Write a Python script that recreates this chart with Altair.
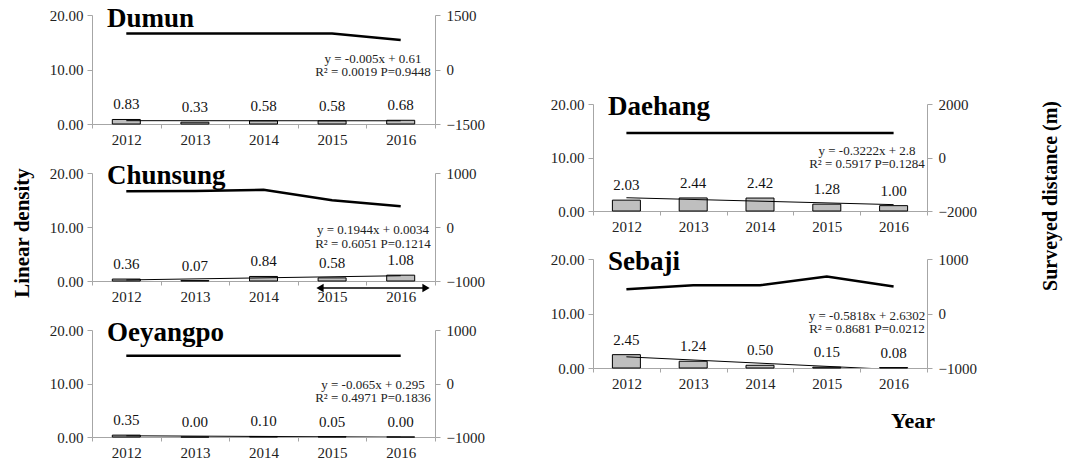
import altair as alt
import pandas as pd

years = [2012, 2013, 2014, 2015, 2016]

density = {
    "Dumun": [0.83, 0.33, 0.58, 0.58, 0.68],
    "Chunsung": [0.36, 0.07, 0.84, 0.58, 1.08],
    "Oeyangpo": [0.35, 0.00, 0.10, 0.05, 0.00],
    "Daehang": [2.03, 2.44, 2.42, 1.28, 1.00],
    "Sebaji": [2.45, 1.24, 0.50, 0.15, 0.08],
}
distance = {
    "Dumun": [990, 990, 990, 990, 810],
    "Chunsung": [660, 665, 690, 495, 385],
    "Oeyangpo": [520, 520, 520, 520, 520],
    "Daehang": [920, 920, 920, 920, 920],
    "Sebaji": [445, 520, 520, 680, 495],
}
right_domain = {
    "Dumun": [-1500, 1500],
    "Chunsung": [-1000, 1000],
    "Oeyangpo": [-1000, 1000],
    "Daehang": [-2000, 2000],
    "Sebaji": [-1000, 1000],
}
equations = {
    "Dumun": ["y = -0.005x + 0.61", "R\u00b2 = 0.0019 P=0.9448"],
    "Chunsung": ["y = 0.1944x + 0.0034", "R\u00b2 = 0.6051 P=0.1214"],
    "Oeyangpo": ["y = -0.065x + 0.295", "R\u00b2 = 0.4971 P=0.1836"],
    "Daehang": ["y = -0.3222x + 2.8", "R\u00b2 = 0.5917 P=0.1284"],
    "Sebaji": ["y = -0.5818x + 2.6302", "R\u00b2 = 0.8681 P=0.0212"],
}
# annotation placement (style)
eq_y = {"Dumun": (12.0, 9.5), "Chunsung": (9.4, 6.9), "Oeyangpo": (9.8, 7.3),
        "Daehang": (11.3, 8.8), "Sebaji": (9.6, 7.1)}
sizes = {"Dumun": (343, 109), "Chunsung": (343, 108), "Oeyangpo": (343, 107),
         "Daehang": (334, 107), "Sebaji": (334, 109)}

FONT = "Liberation Serif"
AX = "#a6a6a6"


def panel(name):
    w, h = sizes[name]
    df = pd.DataFrame({"year": years, "density": density[name], "distance": distance[name]})
    base = alt.Chart(df)
    xaxis = alt.Axis(tickBand="extent", labelAngle=0, grid=False, title=None,
                     tickSize=4, labelPadding=4, labelOverlap=False)
    xscale = alt.Scale(paddingInner=0, paddingOuter=0)
    yscale = alt.Scale(domain=[0, 20], nice=False)
    yaxis = alt.Axis(values=[0, 10, 20], format=".2f", grid=False, title=None,
                     tickSize=5, labelPadding=4)
    X = alt.X("year:O", scale=xscale, axis=xaxis)
    Y = alt.Y("density:Q", scale=yscale, axis=yaxis)

    bars = base.mark_bar(width=28, fill="#bfbfbf", stroke="black", strokeWidth=1).encode(x=X, y=Y)
    trend = base.transform_regression("year", "density").mark_line(
        color="black", strokeWidth=1, clip=True).encode(x="year:O", y="density:Q")
    labels = base.mark_text(dy=-15, font=FONT, fontSize=15, color="#111").encode(
        x="year:O", y="density:Q", text=alt.Text("density:Q", format=".2f"))
    ttl = base.transform_filter("datum.year == 2012").mark_text(
        align="left", baseline="alphabetic", font=FONT, fontSize=27, fontWeight="bold",
        color="black").encode(x=alt.value(15), y=alt.value(11 if name != "Dumun" else 12),
                              text=alt.value(name))
    eq_df = pd.DataFrame({"t": equations[name], "ty": list(eq_y[name])})
    eq = alt.Chart(eq_df).mark_text(font=FONT, fontSize=13, color="#222").encode(
        x=alt.value(round(w * 0.82)), y="ty:Q", text="t:N")

    layers = [bars, trend, labels, ttl, eq]

    if name == "Chunsung":
        one = base.transform_filter("datum.year == 2012")
        ax0, ax1, ay = round(w * 0.666), round(w * 0.974), h + 7
        shaft = one.mark_rule(color="black", strokeWidth=1.5).encode(
            x=alt.value(ax0), x2=alt.value(ax1), y=alt.value(ay))
        lhead = one.mark_point(shape="triangle-left", filled=True, color="black",
                               size=70, opacity=1).encode(x=alt.value(ax0), y=alt.value(ay))
        rhead = one.mark_point(shape="triangle-right", filled=True, color="black",
                               size=70, opacity=1).encode(x=alt.value(ax1), y=alt.value(ay))
        lab = one.mark_text(angle=270, font=FONT, fontSize=21, fontWeight="bold",
                            color="black").encode(x=alt.value(-69), y=alt.value(60),
                                                  text=alt.value("Linear density"))
        layers += [shaft, lhead, rhead, lab]

    left = alt.layer(*layers)

    lo, hi = right_domain[name]
    raxis = alt.Axis(values=[lo, 0, hi], format="d", grid=False, title=None, orient="right",
                     tickSize=5, labelPadding=6)
    dist = base.mark_line(color="black", strokeWidth=2.5).encode(
        x="year:O",
        y=alt.Y("distance:Q", scale=alt.Scale(domain=[lo, hi], nice=False, zero=False),
                axis=raxis))
    rlayers = [dist]
    if name == "Daehang":
        rlayers.append(base.transform_filter("datum.year == 2012").mark_text(
            angle=270, font=FONT, fontSize=20, fontWeight="bold", color="black").encode(
            x=alt.value(458), y=alt.value(92), text=alt.value("Surveyed distance (m)")))
    if name == "Sebaji":
        rlayers.append(base.transform_filter("datum.year == 2012").mark_text(
            font=FONT, fontSize=22, fontWeight="bold", color="black").encode(
            x=alt.value(320), y=alt.value(162), text=alt.value("Year")))
    right = alt.layer(*rlayers)
    return alt.layer(left, right).resolve_scale(y="independent").properties(width=w, height=h)


spacer = alt.Chart(pd.DataFrame({"a": [0]})).mark_point(opacity=0).encode(
    x=alt.X("a:Q", axis=None), y=alt.Y("a:Q", axis=None)).properties(width=334, height=41)

left_col = alt.vconcat(panel("Dumun"), panel("Chunsung"), panel("Oeyangpo"),
                       spacing=49, bounds="flush")
right_col = alt.vconcat(spacer, panel("Daehang"), panel("Sebaji"), spacing=48, bounds="flush")

chart = alt.hconcat(left_col, right_col, spacing=65).properties(
    padding={"left": 4, "top": -3, "right": 5, "bottom": 5}
).configure_view(stroke=None).configure_axis(
    domainColor=AX, tickColor=AX, labelFont=FONT, labelFontSize=15, labelColor="#222",
    domainWidth=1, tickWidth=1,
)

chart.save("out.html", embed_options={"renderer": "svg", "actions": False})
